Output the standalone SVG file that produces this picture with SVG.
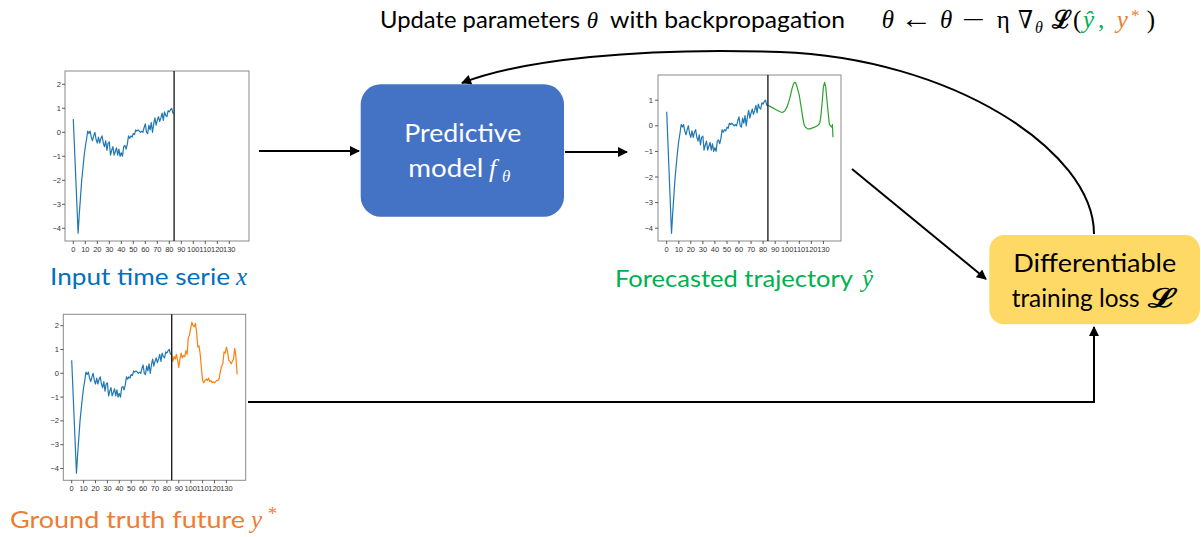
<svg xmlns="http://www.w3.org/2000/svg" width="1201" height="537" viewBox="0 0 1201 537">
<style>
.lbl{font-family:Lato,"Open Sans",sans-serif;}
.math{font-family:"Liberation Serif","DejaVu Serif",serif;font-style:italic;}
.up{font-family:"Liberation Serif","DejaVu Serif",serif;}
.tick{font-family:"Liberation Sans",Arial,sans-serif;font-size:7.5px;fill:#333;}
.tx{text-anchor:middle;}
.ty{text-anchor:end;}
.frame{fill:#fff;stroke:#8a8a8a;stroke-width:1;}
.tk{stroke:#333;stroke-width:0.8;fill:none;}
.vl{stroke:#222;stroke-width:1.4;}
.series{fill:none;stroke-width:1.2;vector-effect:non-scaling-stroke;stroke-linejoin:round;}
.b{stroke:#1f77b4;}
.conn{fill:none;stroke:#000;stroke-width:2;}
</style>
<defs>
<marker id="ah" viewBox="0 0 10 10" refX="9" refY="5" markerWidth="5.5" markerHeight="5" orient="auto" markerUnits="strokeWidth">
<path d="M0,0L10,5L0,10z" fill="#000"/>
</marker>
</defs>
<rect width="1201" height="537" fill="#fff"/>

<g id="title">
<text class="lbl" x="380" y="28" font-size="24" textLength="200" lengthAdjust="spacingAndGlyphs">Update parameters</text>
<text class="math" x="586.7" y="28" font-size="23">θ</text>
<text class="lbl" x="610" y="28" font-size="24" textLength="235" lengthAdjust="spacingAndGlyphs">with backpropagation</text>
</g>

<g id="formula" font-size="25">
<text class="math" x="881.7" y="28">θ</text>
<text class="up" x="900" y="28" font-size="28" textLength="32" lengthAdjust="spacingAndGlyphs">←</text>
<text class="math" x="940" y="28">θ</text>
<text class="up" x="961.7" y="28" textLength="23" lengthAdjust="spacingAndGlyphs">−</text>
<text class="up" x="996.7" y="28">η</text>
<text class="up" x="1018" y="28" textLength="15" lengthAdjust="spacingAndGlyphs">∇</text>
<text class="math" x="1035" y="33" font-size="16">θ</text>
<text class="up" x="1051.7" y="28" font-weight="bold" textLength="20" lengthAdjust="spacingAndGlyphs">ℒ</text>
<text class="up" x="1073" y="28">(</text>
<text class="math" x="1083" y="28" fill="#00B050">ŷ</text>
<text class="up" x="1098" y="28" fill="#00B050">,</text>
<text class="math" x="1116.7" y="28" fill="#ED7D31">y</text>
<text class="up" x="1131" y="21" font-size="17" fill="#ED7D31">*</text>
<text class="up" x="1146.7" y="28">)</text>
</g>

<g id="plot-input">
<rect class="frame" x="65" y="71" width="184" height="170"/>
<path class="tk" d="M62,84.3h3M62,108.3h3M62,132.3h3M62,156.3h3M62,180.3h3M62,204.3h3M62,228.3h3M73.3,241v3M85.3,241v3M97.3,241v3M109.3,241v3M121.3,241v3M133.3,241v3M145.3,241v3M157.3,241v3M169.3,241v3M181.3,241v3M193.3,241v3M205.3,241v3M217.3,241v3M229.3,241v3"/>
<g class="tick ty"><text x="61" y="86.8">2</text><text x="61" y="110.8">1</text><text x="61" y="134.8">0</text><text x="61" y="158.8">−1</text><text x="61" y="182.8">−2</text><text x="61" y="206.8">−3</text><text x="61" y="230.8">−4</text></g>
<g class="tick tx"><text x="73.3" y="252">0</text><text x="85.3" y="252">10</text><text x="97.3" y="252">20</text><text x="109.3" y="252">30</text><text x="121.3" y="252">40</text><text x="133.3" y="252">50</text><text x="145.3" y="252">60</text><text x="157.3" y="252">70</text><text x="169.3" y="252">80</text><text x="181.3" y="252">90</text><text x="193.3" y="252">100</text><text x="205.3" y="252">110</text><text x="217.3" y="252">120</text><text x="229.3" y="252">130</text></g>
<path class="series b" transform="translate(73.3,132.3) scale(1.2,-24)" d="M0,0.55L4,-4.2 5,-3.4 6,-2.7 7,-2 8,-1.5 9,-1 10,-0.6 11,-0.3 12,0.05 13,-0.05 14,0.05 15,-0.2 16,-0.35 17,-0.15 18,0 19,-0.3 20,-0.45 21,-0.2 22,-0.45 23,-0.25 24,-0.15 25,-0.45 26,-0.6 27,-0.35 28,-0.75 29,-0.45 30,-0.4 31,-0.95 32,-0.75 33,-0.6 34,-0.95 35,-0.8 36,-0.65 37,-0.95 38,-0.7 39,-1 40,-0.85 41,-1 42,-0.6 43,-0.55 44,-0.7 45,-0.5 46,-0.15 47,-0.25 48,-0.15 49,-0.2 50,-0.05 51,-0.1 52,0.1 53,0.05 54,0.1 55,0.05 56,0 57,0.05 58,0 59,0.2 60,0.35 61,0 62,-0.05 63,0.3 64,0.1 65,0.4 66,0 67,0.35 68,0.6 69,0.3 70,0.5 71,0.65 72,0.45 73,0.6 74,0.8 75,0.5 76,0.85 77,0.7 78,0.65 79,0.9 80,0.85 81,0.95 82,1 83,0.8 84,0.8"/>
<line class="vl" x1="174.1" y1="71" x2="174.1" y2="241"/>
<text class="lbl" x="50" y="285" font-size="24" fill="#0070C0" textLength="180" lengthAdjust="spacingAndGlyphs">Input time serie</text>
<text class="math" x="236" y="285" font-size="25" fill="#0070C0">x</text>
</g>

<g id="plot-forecast">
<rect class="frame" x="658" y="75" width="183" height="166"/>
<path class="tk" d="M655,100.2h3M655,125.8h3M655,151.4h3M655,177h3M655,202.6h3M655,228.2h3M666.7,241v3M678.8,241v3M690.8,241v3M702.9,241v3M714.9,241v3M727,241v3M739,241v3M751.1,241v3M763.1,241v3M775.2,241v3M787.2,241v3M799.3,241v3M811.3,241v3M823.4,241v3"/>
<g class="tick ty"><text x="653" y="102.7">1</text><text x="653" y="128.3">0</text><text x="653" y="153.9">−1</text><text x="653" y="179.5">−2</text><text x="653" y="205.1">−3</text><text x="653" y="230.7">−4</text></g>
<g class="tick tx"><text x="666.7" y="252">0</text><text x="678.8" y="252">10</text><text x="690.8" y="252">20</text><text x="702.9" y="252">30</text><text x="714.9" y="252">40</text><text x="727" y="252">50</text><text x="739" y="252">60</text><text x="751.1" y="252">70</text><text x="763.1" y="252">80</text><text x="775.2" y="252">90</text><text x="787.2" y="252">100</text><text x="799.3" y="252">110</text><text x="811.3" y="252">120</text><text x="823.4" y="252">130</text></g>
<path class="series b" transform="translate(666.7,125.8) scale(1.205,-25.6)" d="M0,0.55L4,-4.2 5,-3.4 6,-2.7 7,-2 8,-1.5 9,-1 10,-0.6 11,-0.3 12,0.05 13,-0.05 14,0.05 15,-0.2 16,-0.35 17,-0.15 18,0 19,-0.3 20,-0.45 21,-0.2 22,-0.45 23,-0.25 24,-0.15 25,-0.45 26,-0.6 27,-0.35 28,-0.75 29,-0.45 30,-0.4 31,-0.95 32,-0.75 33,-0.6 34,-0.95 35,-0.8 36,-0.65 37,-0.95 38,-0.7 39,-1 40,-0.85 41,-1 42,-0.6 43,-0.55 44,-0.7 45,-0.5 46,-0.15 47,-0.25 48,-0.15 49,-0.2 50,-0.05 51,-0.1 52,0.1 53,0.05 54,0.1 55,0.05 56,0 57,0.05 58,0 59,0.2 60,0.35 61,0 62,-0.05 63,0.3 64,0.1 65,0.4 66,0 67,0.35 68,0.6 69,0.3 70,0.5 71,0.65 72,0.45 73,0.6 74,0.8 75,0.5 76,0.85 77,0.7 78,0.65 79,0.9 80,0.85 81,0.95 82,1 83,0.8 84,0.8"/>
<path class="series" stroke="#2ca02c" transform="translate(666.7,125.8) scale(1.205,-25.6)" d="M84,0.8L86,0.75 88,0.7 90,0.65 92,0.6 94,0.55 96,0.52 98,0.58 100,0.75 102,1.05 104,1.45 105,1.6 106,1.7 107,1.68 108,1.55 110,1.2 111,0.9 112,0.6 113,0.3 114,0.05 115,-0.05 117,-0.12 119,-0.12 121,-0.08 123,-0.05 125,0 127,0.1 128,0.4 129,0.9 130,1.5 131,1.7 132,1.5 133,1 134,0.5 135,0.05 136,0 137,-0.05 137.5,0.05 138,-0.45"/>
<line class="vl" x1="767.9" y1="75" x2="767.9" y2="241"/>
<text class="lbl" x="615" y="286.7" font-size="24" fill="#00B050" textLength="238" lengthAdjust="spacingAndGlyphs">Forecasted trajectory</text>
<text class="math" x="862" y="286.7" font-size="25" fill="#00B050">ŷ</text>
</g>

<g id="plot-truth">
<rect class="frame" x="63.3" y="314.3" width="182.4" height="166"/>
<path class="tk" d="M60.3,325.7h3M60.3,349.5h3M60.3,373.3h3M60.3,397.1h3M60.3,420.9h3M60.3,444.7h3M60.3,468.5h3M71.7,480.3v3M83.6,480.3v3M95.5,480.3v3M107.4,480.3v3M119.3,480.3v3M131.2,480.3v3M143.1,480.3v3M155,480.3v3M166.9,480.3v3M178.8,480.3v3M190.7,480.3v3M202.6,480.3v3M214.5,480.3v3M226.4,480.3v3"/>
<g class="tick ty"><text x="59" y="328.2">2</text><text x="59" y="352">1</text><text x="59" y="375.8">0</text><text x="59" y="399.6">−1</text><text x="59" y="423.4">−2</text><text x="59" y="447.2">−3</text><text x="59" y="471">−4</text></g>
<g class="tick tx"><text x="71.7" y="491">0</text><text x="83.6" y="491">10</text><text x="95.5" y="491">20</text><text x="107.4" y="491">30</text><text x="119.3" y="491">40</text><text x="131.2" y="491">50</text><text x="143.1" y="491">60</text><text x="155" y="491">70</text><text x="166.9" y="491">80</text><text x="178.8" y="491">90</text><text x="190.7" y="491">100</text><text x="202.6" y="491">110</text><text x="214.5" y="491">120</text><text x="226.4" y="491">130</text></g>
<path class="series b" transform="translate(71.7,373.3) scale(1.19,-23.8)" d="M0,0.55L4,-4.2 5,-3.4 6,-2.7 7,-2 8,-1.5 9,-1 10,-0.6 11,-0.3 12,0.05 13,-0.05 14,0.05 15,-0.2 16,-0.35 17,-0.15 18,0 19,-0.3 20,-0.45 21,-0.2 22,-0.45 23,-0.25 24,-0.15 25,-0.45 26,-0.6 27,-0.35 28,-0.75 29,-0.45 30,-0.4 31,-0.95 32,-0.75 33,-0.6 34,-0.95 35,-0.8 36,-0.65 37,-0.95 38,-0.7 39,-1 40,-0.85 41,-1 42,-0.6 43,-0.55 44,-0.7 45,-0.5 46,-0.15 47,-0.25 48,-0.15 49,-0.2 50,-0.05 51,-0.1 52,0.1 53,0.05 54,0.1 55,0.05 56,0 57,0.05 58,0 59,0.2 60,0.35 61,0 62,-0.05 63,0.3 64,0.1 65,0.4 66,0 67,0.35 68,0.6 69,0.3 70,0.5 71,0.65 72,0.45 73,0.6 74,0.8 75,0.5 76,0.85 77,0.7 78,0.65 79,0.9 80,0.85 81,0.95 82,1 83,0.8 84,0.8"/>
<path class="series" stroke="#ff7f0e" transform="translate(71.7,373.3) scale(1.19,-23.8)" d="M84,0.8L85,0.5 86,0.7 87,0.6 88,0.8 89,0.55 90,0.25 91,0.6 92,0.85 93,0.65 94,0.75 95,0.7 96,0.95 97,0.8 98,1.5 99,1.6 100,1.9 101,2.15 102,2 103,1.95 104,2.1 105,1.7 106,1.1 107,1.15 108,0.8 109,0.2 110,-0.3 111,-0.4 112,-0.3 113,-0.25 114,-0.3 115,-0.2 116,-0.35 117,-0.3 118,-0.4 119,-0.35 120,-0.4 121,-0.35 122,-0.3 123,-0.3 124,-0.2 125,0.1 126,0.3 127,0.4 128,0.9 129,0.85 130,1.1 131,0.9 132,0.55 133,0.5 134,0.4 135,0.5 136,0.6 137,1.05 138,0.7 139,-0.05"/>
<line class="vl" x1="171.7" y1="314.3" x2="171.7" y2="480.3"/>
<text class="lbl" x="10" y="528" font-size="24" fill="#ED7D31" textLength="235" lengthAdjust="spacingAndGlyphs">Ground truth future</text>
<text class="math" x="251" y="528" font-size="25" fill="#ED7D31">y</text>
<text class="up" x="268" y="520" font-size="18" fill="#ED7D31">*</text>
</g>

<g id="model">
<rect x="360.7" y="84.3" width="203.3" height="132.4" rx="20" fill="#4472C4"/>
<text class="lbl" x="404.3" y="141.7" font-size="25" fill="#fff" textLength="117" lengthAdjust="spacingAndGlyphs">Predictive</text>
<text class="lbl" x="408.3" y="176.7" font-size="25" fill="#fff" textLength="75" lengthAdjust="spacingAndGlyphs">model</text>
<text class="math" x="489" y="176.7" font-size="26" fill="#fff">f</text>
<text class="math" x="502" y="182" font-size="17" fill="#fff">θ</text>
</g>

<g id="loss">
<rect x="989.3" y="235" width="210.7" height="89.3" rx="15" fill="#FFD966"/>
<text class="lbl" x="1013.3" y="271.7" font-size="25" fill="#000" textLength="163" lengthAdjust="spacingAndGlyphs">Differentiable</text>
<text class="lbl" x="1011.7" y="306.7" font-size="25" fill="#000" textLength="128" lengthAdjust="spacingAndGlyphs">training loss</text>
<text class="up" x="1148" y="306.7" font-size="26" font-weight="bold" textLength="30" lengthAdjust="spacingAndGlyphs">ℒ</text>
</g>

<g id="connectors">
<path class="conn" marker-end="url(#ah)" d="M259,151H359"/>
<path class="conn" marker-end="url(#ah)" d="M565,152H627"/>
<path class="conn" marker-end="url(#ah)" d="M852,169L986,279"/>
<path class="conn" marker-end="url(#ah)" d="M248,402H1094V327"/>
<path class="conn" marker-end="url(#ah)" d="M1094,234C1094,150 950,58 780,52C640,47 520,60 462,83"/>
</g>
</svg>
